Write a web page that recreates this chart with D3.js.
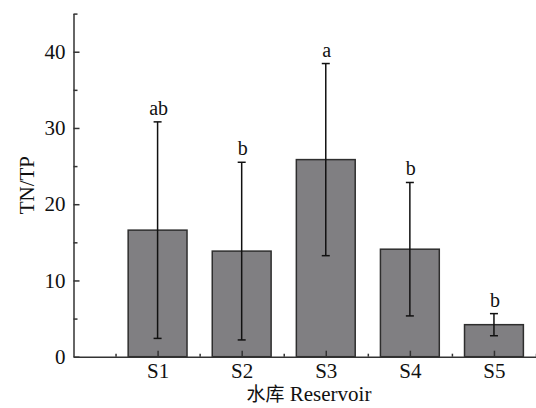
<!DOCTYPE html>
<html>
<head>
<meta charset="utf-8">
<script src="https://cdn.jsdelivr.net/npm/d3@7/dist/d3.min.js"></script>
<style>
  html, body { margin: 0; padding: 0; background: #fff; }
  svg { display: block; }
  text { font-family: "Liberation Serif", "Times New Roman", serif; fill: #111; }
</style>
</head>
<body>
<svg id="chart" width="536" height="408"></svg>
<script>
// TN/TP ratio by reservoir: mean, standard deviation and significance letter
const categories = ["S1", "S2", "S3", "S4", "S5"];
const means = [16.6, 13.85, 25.85, 14.1, 4.2];
const sds = [14.2, 11.65, 12.6, 8.75, 1.45];
const letters = ["ab", "b", "a", "b", "b"];
const yTicks = [0, 10, 20, 30, 40];
const yMinorTicks = [5, 15, 25, 35, 45];

const svg = d3.select("#chart");

const x = d3.scaleLinear().domain([0, 5.5]).range([73.5, 536]);
const y = d3.scaleLinear().domain([0, 45]).range([356.7, 13.6]);
const barW = x(0.7) - x(0);
const pos = i => x(i + 1);

const axisColor = "#333";

// bars
svg.append("g").selectAll("rect")
  .data(means)
  .join("rect")
  .attr("x", (d, i) => pos(i) - barW / 2)
  .attr("y", d => y(d))
  .attr("width", barW)
  .attr("height", d => y(0) - y(d))
  .attr("fill", "#807f82")
  .attr("stroke", "#2e2e2e")
  .attr("stroke-width", 1.5);

// error bars
const eb = svg.append("g").attr("stroke", "#111").attr("stroke-width", 1.5);
means.forEach((m, i) => {
  const cx = pos(i), hi = y(m + sds[i]), lo = y(m - sds[i]);
  eb.append("line").attr("x1", cx).attr("x2", cx).attr("y1", hi).attr("y2", lo);
  eb.append("line").attr("x1", cx - 4).attr("x2", cx + 4).attr("y1", hi).attr("y2", hi);
  eb.append("line").attr("x1", cx - 4).attr("x2", cx + 4).attr("y1", lo).attr("y2", lo);
});

// significance letters
svg.append("g").selectAll("text")
  .data(letters)
  .join("text")
  .attr("x", (d, i) => pos(i) + 1)
  .attr("y", (d, i) => y(means[i] + sds[i]) - 7)
  .attr("text-anchor", "middle")
  .attr("font-size", 20)
  .text(d => d);

// y axis
const yAxis = svg.append("g").attr("transform", `translate(${x(0)},0)`)
  .call(d3.axisLeft(y).tickValues(yTicks).tickSizeInner(-6).tickSizeOuter(0).tickPadding(8));
svg.append("g").attr("transform", `translate(${x(0)},0)`)
  .call(d3.axisLeft(y).tickValues(yMinorTicks).tickSizeInner(-4).tickSizeOuter(0).tickFormat(""))
  .select(".domain").remove();
yAxis.selectAll("text").attr("font-size", 21).attr("font-family", "Liberation Serif");

// x axis
const xAxis = svg.append("g").attr("transform", `translate(0,${y(0)})`)
  .call(d3.axisBottom(x).tickValues([1, 2, 3, 4, 5]).tickSizeInner(-6).tickSizeOuter(0).tickPadding(6)
    .tickFormat(d => categories[d - 1]));
svg.append("g").attr("transform", `translate(0,${y(0)})`)
  .call(d3.axisBottom(x).tickValues([0.5, 1.5, 2.5, 3.5, 4.5, 5.5]).tickSizeInner(-3).tickSizeOuter(0).tickFormat(""))
  .select(".domain").remove();
xAxis.selectAll("text").attr("font-size", 21).attr("font-family", "Liberation Serif");

svg.selectAll(".domain, .tick line").attr("stroke", axisColor).attr("stroke-width", 1.5);

// axis titles
svg.append("text")
  .attr("transform", `translate(34,${(y(0) + y(45)) / 2}) rotate(-90)`)
  .attr("text-anchor", "middle")
  .attr("font-size", 21)
  .text("TN/TP");

const xt = svg.append("text")
  .attr("x", 309)
  .attr("y", 401)
  .attr("text-anchor", "middle")
  .attr("font-size", 21);
xt.append("tspan").attr("font-family", "Noto Sans CJK SC").attr("font-size", 19).text("水库");
xt.append("tspan").text(" Reservoir");
</script>
</body>
</html>
